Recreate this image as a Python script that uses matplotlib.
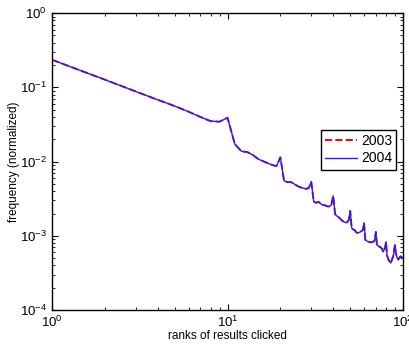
import numpy as np
import matplotlib
matplotlib.use("Agg")
import matplotlib.pyplot as plt

plt.rcParams['font.family'] = ['Liberation Sans', 'DejaVu Sans']
plt.rcParams['mathtext.fontset'] = 'custom'
plt.rcParams['mathtext.rm'] = 'Liberation Sans'
plt.rcParams['mathtext.it'] = 'Liberation Sans:italic'

# click frequency by rank (normalized)
ranks = np.arange(1, 101)
freq_2004 = [
    0.235, 0.127, 0.088, 0.068, 0.056, 0.047, 0.040, 0.0351, 0.0345, 0.039,
    0.0172, 0.0138, 0.0134, 0.0122, 0.0108, 0.0101, 0.0095, 0.0090, 0.0087, 0.0114,
    0.0055, 0.0053, 0.0053, 0.0050, 0.0047, 0.0045, 0.0044, 0.0043, 0.0044, 0.00534,
    0.00288, 0.00279, 0.00288, 0.0027, 0.0026, 0.00258, 0.0025, 0.00249, 0.0026, 0.00346,
    0.00196, 0.00185, 0.00178, 0.0017, 0.0016, 0.00155, 0.00151, 0.00152, 0.00163, 0.00217,
    0.00127, 0.00122, 0.00120, 0.00113, 0.00109, 0.00111, 0.00113, 0.00116, 0.00120, 0.0015,
    0.00088, 0.00086, 0.00084, 0.00083, 0.00082, 0.00082, 0.00083, 0.00084, 0.00088, 0.00113,
    0.00075, 0.00074, 0.00072, 0.00071, 0.00069, 0.00067, 0.00061, 0.00065, 0.00069, 0.00083,
    0.00055, 0.00050, 0.00047, 0.00045, 0.00043, 0.00046, 0.00050, 0.00053, 0.00065, 0.00075,
    0.00059, 0.00053, 0.00050, 0.00048, 0.00050, 0.00052, 0.00053, 0.00052, 0.00051, 0.00050,
]
# 2003 curve is practically the same as 2004
freq_2003 = list(freq_2004)

fig = plt.figure(figsize=(4.1, 3.45), dpi=100)
ax = fig.add_axes([0.127, 0.101, 0.856, 0.861])

ax.loglog(ranks, freq_2003, 'r--', lw=1.4, label='2003')
ax.loglog(ranks, freq_2004, color='#2020ff', lw=1.0, label='2004')

ax.set_xlim(1, 100)
ax.set_ylim(1e-4, 1)
ax.set_xlabel('ranks of results clicked', fontsize=8.5, labelpad=0)
ax.set_ylabel('frequency (normalized)', fontsize=8.5, labelpad=0)

ax.tick_params(which='both', direction='in', top=True, right=True, labelsize=9.5)
ax.tick_params(which='major', length=4, width=0.8)
ax.tick_params(which='minor', length=2, width=0.6)
for s in ax.spines.values():
    s.set_linewidth(1.0)

leg = ax.legend(loc='center right', bbox_to_anchor=(1.0, 0.54), fontsize=10,
                fancybox=False, framealpha=1, edgecolor='black',
                handlelength=2.3, borderpad=0.3, labelspacing=0.25, handletextpad=0.3)
leg.get_frame().set_linewidth(1.0)

plt.savefig('out.png', dpi=100)
